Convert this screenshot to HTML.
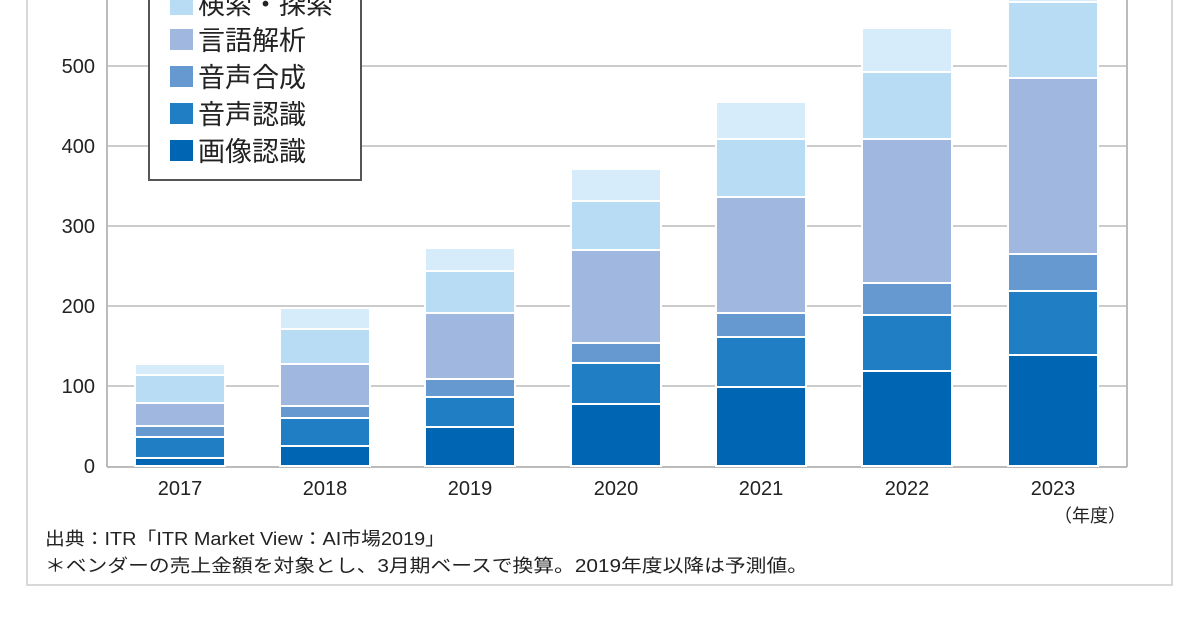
<!DOCTYPE html>
<html><head><meta charset="utf-8"><style>
html,body{margin:0;padding:0;background:#fff;}
svg{display:block;}
text{font-family:"Liberation Sans","Noto Sans CJK JP",sans-serif;fill:#222;}
</style></head><body>
<svg width="1200" height="628" viewBox="0 0 1200 628">
<rect x="27" y="-10" width="1145" height="595" fill="#fff" stroke="#d8d8d8" stroke-width="2"/>
<g stroke="#cccccc" stroke-width="2">
<line x1="107" y1="66" x2="1127" y2="66"/>
<line x1="107" y1="146" x2="1127" y2="146"/>
<line x1="107" y1="226" x2="1127" y2="226"/>
<line x1="107" y1="306" x2="1127" y2="306"/>
<line x1="107" y1="386" x2="1127" y2="386"/>
</g>
<line x1="107" y1="-5" x2="107" y2="467" stroke="#bbb" stroke-width="2"/>
<line x1="1127" y1="-5" x2="1127" y2="467" stroke="#bbb" stroke-width="2"/>
<line x1="107" y1="467" x2="1127" y2="467" stroke="#bbb" stroke-width="2"/>
<g font-size="20" text-anchor="end">
<text x="95" y="73">500</text><text x="95" y="153">400</text><text x="95" y="233">300</text>
<text x="95" y="313">200</text><text x="95" y="393">100</text><text x="95" y="473">0</text>
</g>
<g id="bars" stroke="#fff" stroke-width="2">
<rect x="135" y="458" width="90" height="8" fill="#0066b3"/>
<rect x="135" y="437" width="90" height="21" fill="#1f7ec4"/>
<rect x="135" y="426" width="90" height="11" fill="#6699d0"/>
<rect x="135" y="403" width="90" height="23" fill="#a0b8e0"/>
<rect x="135" y="375" width="90" height="28" fill="#b8dcf4"/>
<rect x="135" y="364" width="90" height="11" fill="#d6ecfa"/>
<rect x="280" y="446" width="90" height="20" fill="#0066b3"/>
<rect x="280" y="418" width="90" height="28" fill="#1f7ec4"/>
<rect x="280" y="406" width="90" height="12" fill="#6699d0"/>
<rect x="280" y="364" width="90" height="42" fill="#a0b8e0"/>
<rect x="280" y="329" width="90" height="35" fill="#b8dcf4"/>
<rect x="280" y="308" width="90" height="21" fill="#d6ecfa"/>
<rect x="425" y="427" width="90" height="39" fill="#0066b3"/>
<rect x="425" y="397" width="90" height="30" fill="#1f7ec4"/>
<rect x="425" y="379" width="90" height="18" fill="#6699d0"/>
<rect x="425" y="313" width="90" height="66" fill="#a0b8e0"/>
<rect x="425" y="271" width="90" height="42" fill="#b8dcf4"/>
<rect x="425" y="248" width="90" height="23" fill="#d6ecfa"/>
<rect x="571" y="404" width="90" height="62" fill="#0066b3"/>
<rect x="571" y="363" width="90" height="41" fill="#1f7ec4"/>
<rect x="571" y="343" width="90" height="20" fill="#6699d0"/>
<rect x="571" y="250" width="90" height="93" fill="#a0b8e0"/>
<rect x="571" y="201" width="90" height="49" fill="#b8dcf4"/>
<rect x="571" y="169" width="90" height="32" fill="#d6ecfa"/>
<rect x="716" y="387" width="90" height="79" fill="#0066b3"/>
<rect x="716" y="337" width="90" height="50" fill="#1f7ec4"/>
<rect x="716" y="313" width="90" height="24" fill="#6699d0"/>
<rect x="716" y="197" width="90" height="116" fill="#a0b8e0"/>
<rect x="716" y="139" width="90" height="58" fill="#b8dcf4"/>
<rect x="716" y="102" width="90" height="37" fill="#d6ecfa"/>
<rect x="862" y="371" width="90" height="95" fill="#0066b3"/>
<rect x="862" y="315" width="90" height="56" fill="#1f7ec4"/>
<rect x="862" y="283" width="90" height="32" fill="#6699d0"/>
<rect x="862" y="139" width="90" height="144" fill="#a0b8e0"/>
<rect x="862" y="72" width="90" height="67" fill="#b8dcf4"/>
<rect x="862" y="28" width="90" height="44" fill="#d6ecfa"/>
<rect x="1008" y="355" width="90" height="111" fill="#0066b3"/>
<rect x="1008" y="291" width="90" height="64" fill="#1f7ec4"/>
<rect x="1008" y="254" width="90" height="37" fill="#6699d0"/>
<rect x="1008" y="78" width="90" height="176" fill="#a0b8e0"/>
<rect x="1008" y="2" width="90" height="76" fill="#b8dcf4"/>
<rect x="1008" y="-40" width="90" height="42" fill="#d6ecfa"/>
</g>
<g font-size="20" text-anchor="middle">
<text x="180" y="495">2017</text><text x="325" y="495">2018</text><text x="470" y="495">2019</text>
<text x="616" y="495">2020</text><text x="761" y="495">2021</text><text x="907" y="495">2022</text>
<text x="1053" y="495">2023</text>
</g>
<text x="1090" y="522" font-size="18" text-anchor="middle">（年度）</text>
<text x="45" y="545" font-size="18" textLength="400" lengthAdjust="spacingAndGlyphs">出典：ITR「ITR Market View：AI市場2019」</text>
<text x="45" y="572" font-size="18" textLength="763" lengthAdjust="spacingAndGlyphs">＊ベンダーの売上金額を対象とし、3月期ベースで換算。2019年度以降は予測値。</text>
<rect x="149" y="-20" width="212" height="200" fill="#fff" stroke="#555" stroke-width="2"/>
<g font-size="27">
<rect x="170" y="-6" width="23" height="21" fill="#b8dcf4"/><text x="198" y="14">検索・探索</text>
<rect x="170" y="29" width="23" height="21" fill="#a0b8e0"/><text x="198" y="50">言語解析</text>
<rect x="170" y="66" width="23" height="21" fill="#6699d0"/><text x="198" y="87">音声合成</text>
<rect x="170" y="103" width="23" height="21" fill="#1f7ec4"/><text x="198" y="124">音声認識</text>
<rect x="170" y="140" width="23" height="21" fill="#0066b3"/><text x="198" y="161">画像認識</text>
</g>
</svg>
</body></html>
